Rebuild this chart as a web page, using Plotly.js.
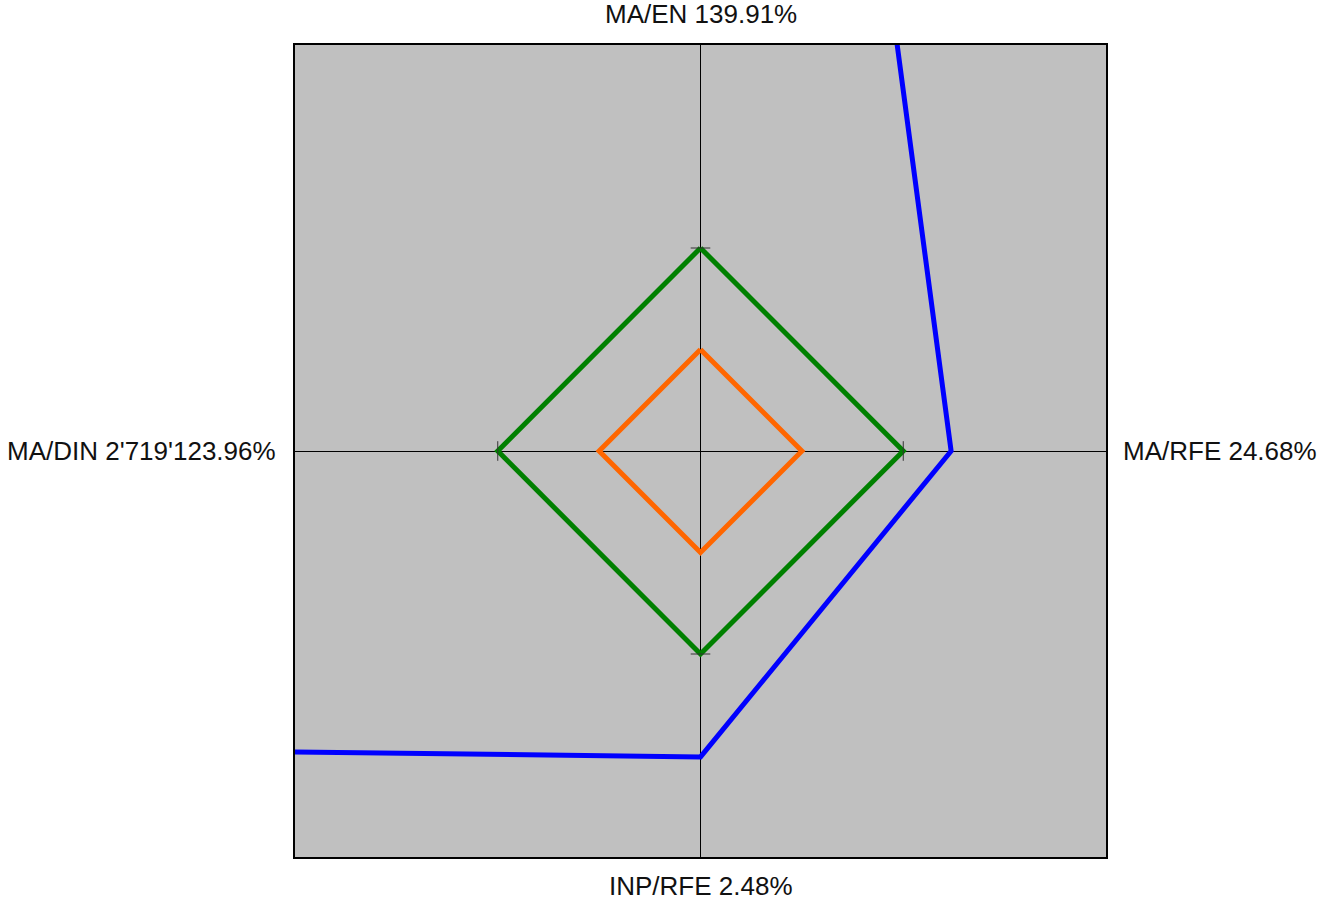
<!DOCTYPE html>
<html><head><meta charset="utf-8">
<script src="https://cdn.plot.ly/plotly-3.0.1.min.js"></script>
<style>html,body{margin:0;padding:0;background:#fff}#chart{width:1322px;height:902px}</style>
</head><body><div id="chart"></div>
<script>
// axes, clockwise from top
const axisNames = ['MA/EN', 'MA/RFE', 'INP/RFE', 'MA/DIN'];
const axisValueLabels = ['139.91%', '24.68%', '2.48%', "2'719'123.96%"];
const axisAngles = [90, 0, -90, 180];
// normalised radii (green reference = 1)
const actualValues = [9.3, 1.236, 1.507, 122];
const targetValues = [1, 1, 1, 1];
const halfValues = [0.5, 0.5, 0.5, 0.5];
const tickRadius = 1;

function toXY(vals){
  const x=[], y=[];
  vals.concat([vals[0]]).forEach((r,i)=>{
    const a = axisAngles[i % axisAngles.length]*Math.PI/180;
    x.push(r*Math.cos(a)); y.push(r*Math.sin(a));
  });
  return {x,y};
}
const blue = toXY(actualValues), green = toXY(targetValues), orange = toXY(halfValues);
const ticks = toXY(targetValues.map(()=>tickRadius));

const traces = [
  {type:'scatter', mode:'lines', x:orange.x, y:orange.y, line:{color:'#ff6600', width:5}, hoverinfo:'skip'},
  {type:'scatter', mode:'lines', x:green.x, y:green.y, line:{color:'#008000', width:5}, hoverinfo:'skip'},
  {type:'scatter', mode:'lines', x:blue.x, y:blue.y, line:{color:'#0000ff', width:5}, hoverinfo:'skip'},
  {type:'scatter', mode:'markers', x:ticks.x.slice(0,4), y:ticks.y.slice(0,4),
   marker:{symbol:['line-ew','line-ns','line-ew','line-ns'], size:14, color:'#333', line:{color:'#333', width:1}}, hoverinfo:'skip'}
];

const font = {family:'Liberation Sans, Arial, sans-serif', size:26, color:'#111'};
const layout = {
  width:1322, height:902, showlegend:false,
  margin:{l:295, r:216, t:45, b:45},
  paper_bgcolor:'#ffffff', plot_bgcolor:'#c0c0c0',
  xaxis:{range:[-2,2], showgrid:false, showticklabels:false, ticks:'', zeroline:true, zerolinecolor:'#000', zerolinewidth:1,
         showline:true, linecolor:'#000', linewidth:2, mirror:true, fixedrange:true},
  yaxis:{range:[-2,2], showgrid:false, showticklabels:false, ticks:'', zeroline:true, zerolinecolor:'#000', zerolinewidth:1,
         showline:true, linecolor:'#000', linewidth:2, mirror:true, fixedrange:true},
  annotations:[
    {text:axisNames[0]+' '+axisValueLabels[0], x:0.5, xref:'paper', y:1, yref:'paper', yanchor:'bottom', xanchor:'center', yshift:14, showarrow:false, font},
    {text:axisNames[1]+' '+axisValueLabels[1], x:1, xref:'paper', y:0.5, yref:'paper', xanchor:'left', yanchor:'middle', xshift:15, showarrow:false, font},
    {text:axisNames[2]+' '+axisValueLabels[2], x:0.5, xref:'paper', y:0, yref:'paper', yanchor:'top', xanchor:'center', yshift:-12, showarrow:false, font},
    {text:axisNames[3]+' '+axisValueLabels[3], x:0, xref:'paper', y:0.5, yref:'paper', xanchor:'right', yanchor:'middle', xshift:-17, showarrow:false, font}
  ]
};
Plotly.newPlot('chart', traces, layout, {displayModeBar:false, staticPlot:true});
</script></body></html>
